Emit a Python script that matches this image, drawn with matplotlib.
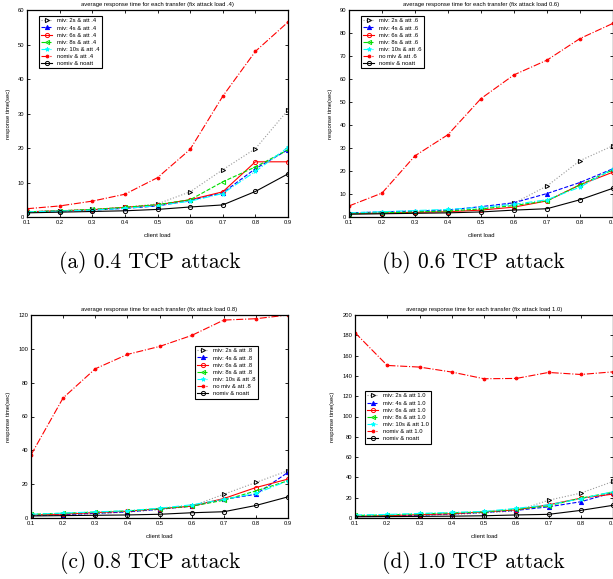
import matplotlib
matplotlib.use("Agg")
import matplotlib.pyplot as plt

load = [0.1, 0.2, 0.3, 0.4, 0.5, 0.6, 0.7, 0.8, 0.9]

# Panel (a) attack 0.4
a_2s = [1.5, 1.8, 2.2, 2.8, 3.8, 7.3, 13.7, 19.8, 31.0]
a_4s = [1.5, 1.7, 2.0, 2.5, 3.2, 4.8, 7.0, 14.0, 19.5]
a_6s = [1.5, 1.8, 2.1, 2.8, 3.5, 5.0, 7.3, 16.0, 16.0]
a_8s = [1.5, 1.8, 2.2, 2.8, 3.6, 5.0, 10.2, 14.5, 19.5]
a_10s = [1.5, 1.7, 2.0, 2.5, 3.3, 4.6, 6.8, 13.2, 20.2]
a_att = [2.4, 3.2, 4.6, 6.6, 11.4, 19.6, 35.0, 48.0, 56.5]
a_noatt = [1.2, 1.4, 1.6, 1.8, 2.2, 2.9, 3.5, 7.4, 12.5]

# Panel (b) attack 0.6
b_2s = [1.5, 1.8, 2.2, 2.5, 3.5, 6.0, 13.5, 24.5, 31.0]
b_4s = [1.8, 2.2, 2.6, 3.0, 4.5, 6.2, 10.2, 15.0, 21.0]
b_6s = [1.5, 1.7, 2.0, 2.3, 3.0, 4.3, 7.0, 14.0, 19.5]
b_8s = [1.5, 1.8, 2.2, 2.6, 3.5, 5.0, 7.0, 14.0, 20.5]
b_10s = [1.8, 2.3, 2.8, 3.3, 4.2, 5.5, 7.5, 13.0, 21.0]
b_att = [4.8, 10.4, 26.6, 35.8, 51.5, 61.8, 68.2, 77.6, 84.2]
b_noatt = [1.2, 1.4, 1.6, 1.8, 2.2, 3.0, 3.6, 7.5, 12.5]

# Panel (c) attack 0.8
c_2s = [1.5, 2.0, 2.6, 3.5, 5.0, 7.0, 14.0, 21.0, 28.0]
c_4s = [1.5, 2.0, 2.8, 3.6, 5.2, 7.0, 11.0, 14.0, 27.0]
c_6s = [1.8, 2.3, 3.2, 4.0, 5.5, 7.0, 11.5, 18.0, 23.0]
c_8s = [2.2, 2.8, 3.5, 4.2, 5.5, 7.0, 10.5, 16.0, 22.0]
c_10s = [2.2, 2.9, 3.6, 4.3, 5.8, 7.8, 11.0, 14.5, 22.0]
c_att = [37.3, 71.0, 88.2, 96.7, 101.4, 107.9, 117.0, 117.8, 120.0]
c_noatt = [1.2, 1.4, 1.6, 1.8, 2.2, 3.1, 3.7, 7.4, 12.5]

# Panel (d) attack 1.0
d_2s = [1.5, 2.0, 2.6, 3.5, 5.0, 7.0, 17.5, 24.5, 36.0]
d_4s = [1.5, 2.0, 2.8, 4.0, 5.5, 7.5, 11.0, 16.0, 25.0]
d_6s = [1.8, 2.3, 3.3, 4.2, 6.0, 8.0, 13.0, 19.5, 23.5]
d_8s = [2.5, 3.0, 4.0, 5.0, 6.0, 8.5, 12.0, 19.5, 25.5]
d_10s = [3.0, 3.5, 4.5, 5.5, 6.5, 9.5, 13.0, 19.0, 26.0]
d_att = [182.6, 150.3, 148.7, 143.8, 137.2, 137.5, 143.4, 141.4, 144.0]
d_noatt = [1.2, 1.4, 1.6, 1.8, 2.2, 3.0, 3.6, 7.5, 12.5]

titles = ["average response time for each transfer (fix attack load .4)",
          "average response time for each transfer (fix attack load 0.6)",
          "average response time for each transfer (fix attack load 0.8)",
          "average response time for each transfer (fix attack load 1.0)"]
labels_a = ["miv: 2s & att .4", "miv: 4s & att .4", "miv: 6s & att .4", "miv: 8s & att .4",
            "miv: 10s & att .4", "nomiv & att .4", "nomiv & noatt"]
labels_b = ["miv: 2s & att .6", "miv: 4s & att .6", "miv: 6s & att .6", "miv: 8s & att .6",
            "miv: 10s & att .6", "no miv & att .6", "nomiv & noatt"]
labels_c = ["miv: 2s & att .8", "miv: 4s & att .8", "miv: 6s & att .8", "miv: 8s & att .8",
            "miv: 10s & att .8", "no miv & att .8", "nomiv & noatt"]
labels_d = ["miv: 2s & att 1.0", "miv: 4s & att 1.0", "miv: 6s & att 1.0", "miv: 8s & att 1.0",
            "miv: 10s & att 1.0", "nomiv & att 1.0", "nomiv & noatt"]
captions = ["(a) 0.4 TCP attack", "(b) 0.6 TCP attack", "(c) 0.8 TCP attack", "(d) 1.0 TCP attack"]
ymax = [60, 90, 120, 200]
ystep = [10, 10, 20, 20]

panels = [
    [a_2s, a_4s, a_6s, a_8s, a_10s, a_att, a_noatt],
    [b_2s, b_4s, b_6s, b_8s, b_10s, b_att, b_noatt],
    [c_2s, c_4s, c_6s, c_8s, c_10s, c_att, c_noatt],
    [d_2s, d_4s, d_6s, d_8s, d_10s, d_att, d_noatt],
]
all_labels = [labels_a, labels_b, labels_c, labels_d]

styles = [
    dict(color="#999999", ls=":", marker=">", mfc="none", mec="black", ms=3),
    dict(color="blue", ls="--", marker="^", mfc="blue", mec="blue", ms=3),
    dict(color="red", ls="-", marker="o", mfc="none", mec="red", ms=3),
    dict(color="#00dd00", ls="--", marker="<", mfc="none", mec="#00dd00", ms=3),
    dict(color="cyan", ls="-.", marker="*", mfc="cyan", mec="cyan", ms=3),
    dict(color="red", ls="-.", marker=".", mfc="red", mec="red", ms=4),
    dict(color="black", ls="-", marker="o", mfc="none", mec="black", ms=3),
]

W, H = 613, 579
fig = plt.figure(figsize=(W / 100, H / 100), dpi=100)
plt.rcParams["font.family"] = ["Liberation Sans", "DejaVu Sans"]

# axes boxes in pixels: left, right, top, bottom
boxes = [(27, 288, 10, 217), (349, 613, 10, 217), (31, 288, 315, 518), (355, 613, 315, 518)]
legend_pos = [(39, 16), (361, 16), (195, 346), (365, 391)]
caption_pos = [(150, 263), (473, 263), (150, 563), (473, 563)]

for i in range(4):
    l, r, t, b = boxes[i]
    ax = fig.add_axes([l / W, 1 - b / H, (r - l) / W, (b - t) / H])
    for series, st, lab in zip(panels[i], styles, all_labels[i]):
        ax.plot(load, series, lw=0.8, label=lab, mew=0.7, **st)
    ax.set_xlim(0.1, 0.9)
    ax.set_ylim(0, ymax[i])
    ax.set_xticks(load)
    ax.set_xticklabels([f"{v:.1f}" for v in load])
    ax.set_yticks(range(0, ymax[i] + 1, ystep[i]))
    ax.tick_params(direction="in", top=True, right=True, labelsize=4.2, length=2.5, width=0.6, pad=2)
    for s in ax.spines.values():
        s.set_linewidth(0.9)
    ax.set_title(titles[i], fontsize=4.2, pad=3)
    ax.set_xlabel("client load", fontsize=4.2, labelpad=6)
    ax.set_ylabel("response time(sec)", fontsize=4.2, labelpad=5)
    lx, ly = legend_pos[i]
    leg = ax.legend(loc="upper left", bbox_to_anchor=(lx / W, 1 - ly / H),
                    bbox_transform=fig.transFigure, fontsize=4.2, frameon=True,
                    fancybox=False, edgecolor="black", framealpha=1,
                    handlelength=1.8, handletextpad=0.9, borderpad=0.4, labelspacing=0.35,
                    borderaxespad=0)
    leg.get_frame().set_linewidth(0.8)
    cx, cy = caption_pos[i]
    fig.text(cx / W, 1 - cy / H, captions[i], family="cmr10", fontsize=15.5, ha="center", va="center")

fig.savefig("out.png", dpi=100)
